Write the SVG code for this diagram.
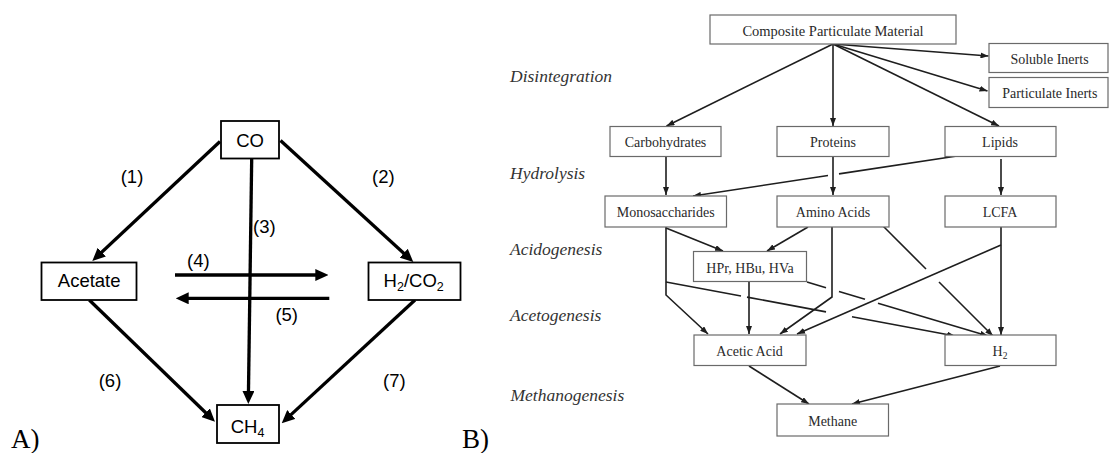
<svg xmlns="http://www.w3.org/2000/svg" width="1110" height="453" viewBox="0 0 1110 453">
<defs>
<style>
.bxa{fill:#fff;stroke:#000;stroke-width:1.8}
.ta{font-family:"Liberation Sans",Arial,sans-serif;font-size:18.5px;fill:#000;text-anchor:middle}
.ea{fill:none;stroke:#000;stroke-width:3.3}
.bxb{fill:#fff;stroke:#6a6a6a;stroke-width:1.2}
.tb{font-family:"Liberation Serif","Times New Roman",serif;font-size:14px;fill:#2a2a2a;text-anchor:middle}
.st{font-family:"Liberation Serif","Times New Roman",serif;font-size:17.5px;font-style:italic;fill:#333}
.eb{fill:none;stroke:#1e1e1e;stroke-width:1.6}
.pl{font-family:"Liberation Serif","Times New Roman",serif;font-size:27px;fill:#000}
</style>
<marker id="ha" markerUnits="userSpaceOnUse" markerWidth="13" markerHeight="12" refX="8" refY="6" orient="auto"><path d="M0,0 L13,6 L0,12 z" fill="#000"/></marker>
<marker id="hb" markerUnits="userSpaceOnUse" markerWidth="8" markerHeight="6" refX="8" refY="3" orient="auto"><path d="M0,0 L8,3 L0,6 z" fill="#1e1e1e"/></marker>
</defs>

<!-- Panel A -->
<g id="panelA-connectors">
<path class="ea" marker-end="url(#ha)" d="M220,141.5 L95.95,257.6"/>
<path class="ea" marker-end="url(#ha)" d="M280.5,140.5 L409.6,258.6"/>
<path class="ea" marker-end="url(#ha)" d="M251.7,158.5 L248.37,399"/>
<path class="ea" marker-end="url(#ha)" d="M175,275 L323.3,275"/>
<path class="ea" marker-end="url(#ha)" d="M329.3,298.3 L180.7,298.3"/>
<path class="ea" marker-end="url(#ha)" d="M89.3,300 L211.4,418.2"/>
<path class="ea" marker-end="url(#ha)" d="M415,300 L285.4,419.9"/>
</g>
<g id="panelA-labels">
<text class="ta" x="132" y="183.3">(1)</text>
<text class="ta" x="383.3" y="183.3">(2)</text>
<text class="ta" x="264.3" y="233.3">(3)</text>
<text class="ta" x="198.3" y="266.7">(4)</text>
<text class="ta" x="286.7" y="320.7">(5)</text>
<text class="ta" x="110" y="387.3">(6)</text>
<text class="ta" x="394.3" y="387.3">(7)</text>
</g>
<g id="nodeCO"><rect class="bxa" x="221" y="121" width="58" height="37.5"/><text class="ta" x="250" y="146.7">CO</text></g>
<g id="nodeAcetate"><rect class="bxa" x="41.5" y="262.5" width="95" height="37.5"/><text class="ta" x="89.2" y="287.3">Acetate</text></g>
<g id="nodeH2CO2"><rect class="bxa" x="368.5" y="262.5" width="92" height="37.5"/><text class="ta" x="413.7" y="287.3">H<tspan font-size="12.5" dy="4">2</tspan><tspan dy="-4">/CO</tspan><tspan font-size="12.5" dy="4">2</tspan></text></g>
<g id="nodeCH4"><rect class="bxa" x="217" y="405" width="62" height="38"/><text class="ta" x="247.5" y="433">CH<tspan font-size="12.5" dy="4">4</tspan></text></g>
<text class="pl" x="11" y="448">A)</text>

<!-- Panel B -->
<text class="pl" x="462" y="448">B)</text>
<g id="stages">
<text class="st" x="510" y="81.5">Disintegration</text>
<text class="st" x="510" y="179">Hydrolysis</text>
<text class="st" x="510" y="255">Acidogenesis</text>
<text class="st" x="510" y="321">Acetogenesis</text>
<text class="st" x="510.5" y="401">Methanogenesis</text>
</g>
<g id="panelB-connectors">
<path class="eb" marker-end="url(#hb)" d="M833,44 L666.5,126"/>
<path class="eb" marker-end="url(#hb)" d="M833,44 L833,126"/>
<path class="eb" marker-end="url(#hb)" d="M833,44 L999,126"/>
<path class="eb" marker-end="url(#hb)" d="M833,44 L988.5,56"/>
<path class="eb" marker-end="url(#hb)" d="M833,44 L987.5,91"/>
<path class="eb" marker-end="url(#hb)" d="M666,157 L666,195"/>
<path class="eb" marker-end="url(#hb)" d="M833,157 L833,195"/>
<path class="eb" marker-end="url(#hb)" d="M1001,159 L1001,195"/>
<path class="eb" d="M957,156 L839,173.9"/>
<path class="eb" marker-end="url(#hb)" d="M828,175.5 L693,196"/>
<path class="eb" marker-end="url(#hb)" d="M666,228 L723,251"/>
<path class="eb" marker-end="url(#hb)" d="M808,227 L767,251"/>
<path class="eb" marker-end="url(#hb)" d="M666,227 L666,295 L708,334"/>
<path class="eb" marker-end="url(#hb)" d="M749,282 L749,334"/>
<path class="eb" marker-end="url(#hb)" d="M832,227 L832,297 L780,334"/>
<path class="eb" marker-end="url(#hb)" d="M1001,245 L797,334"/>
<path class="eb" marker-end="url(#hb)" d="M1001,227 L1001,335"/>
<path class="eb" d="M666,282 L741,296"/>
<path class="eb" d="M747,297.1 L826,311.9"/>
<path class="eb" marker-end="url(#hb)" d="M852,316.8 L955,336"/>
<path class="eb" d="M807,282 L826,287.7"/>
<path class="eb" d="M839,291.5 L865,299.3"/>
<path class="eb" marker-end="url(#hb)" d="M878,303.2 L988,336"/>
<path class="eb" d="M883,226 L926,269"/>
<path class="eb" marker-end="url(#hb)" d="M939,282 L993,336"/>
<path class="eb" marker-end="url(#hb)" d="M749,366 L809,404"/>
<path class="eb" marker-end="url(#hb)" d="M1000,366 L852,404"/>
</g>
<g id="nodeComposite"><rect class="bxb" x="710" y="15" width="246" height="29"/><text class="tb" x="833" y="35.5" style="font-size:14.5px">Composite Particulate Material</text></g>
<g id="nodeSoluble"><rect class="bxb" x="989" y="43.5" width="119" height="29"/><text class="tb" x="1049.5" y="64">Soluble Inerts</text></g>
<g id="nodeParticulate"><rect class="bxb" x="989" y="77.5" width="119" height="30"/><text class="tb" x="1049.8" y="98">Particulate Inerts</text></g>
<g id="nodeCarbohydrates"><rect class="bxb" x="610" y="126.5" width="111" height="30"/><text class="tb" x="665.5" y="147">Carbohydrates</text></g>
<g id="nodeProteins"><rect class="bxb" x="777" y="126.5" width="112" height="30"/><text class="tb" x="833" y="147">Proteins</text></g>
<g id="nodeLipids"><rect class="bxb" x="945" y="126.5" width="111" height="30"/><text class="tb" x="1000" y="147">Lipids</text></g>
<g id="nodeMonosaccharides"><rect class="bxb" x="605" y="196" width="121.5" height="31"/><text class="tb" x="665.7" y="217">Monosaccharides</text></g>
<g id="nodeAminoAcids"><rect class="bxb" x="777" y="196" width="112" height="31"/><text class="tb" x="833" y="217">Amino Acids</text></g>
<g id="nodeLCFA"><rect class="bxb" x="945" y="196" width="111" height="31"/><text class="tb" x="1000" y="217">LCFA</text></g>
<g id="nodeHPr"><rect class="bxb" x="693.5" y="251.5" width="113" height="30"/><text class="tb" x="750" y="272.5">HPr, HBu, HVa</text></g>
<g id="nodeAceticAcid"><rect class="bxb" x="694" y="335" width="112" height="30.5"/><text class="tb" x="749.6" y="356">Acetic Acid</text></g>
<g id="nodeH2"><rect class="bxb" x="945" y="335" width="111" height="30.5"/><text class="tb" x="1000" y="356">H<tspan font-size="9.5" dy="3">2</tspan></text></g>
<g id="nodeMethane"><rect class="bxb" x="777" y="404" width="111.5" height="32"/><text class="tb" x="832.7" y="425.5">Methane</text></g>
</svg>
